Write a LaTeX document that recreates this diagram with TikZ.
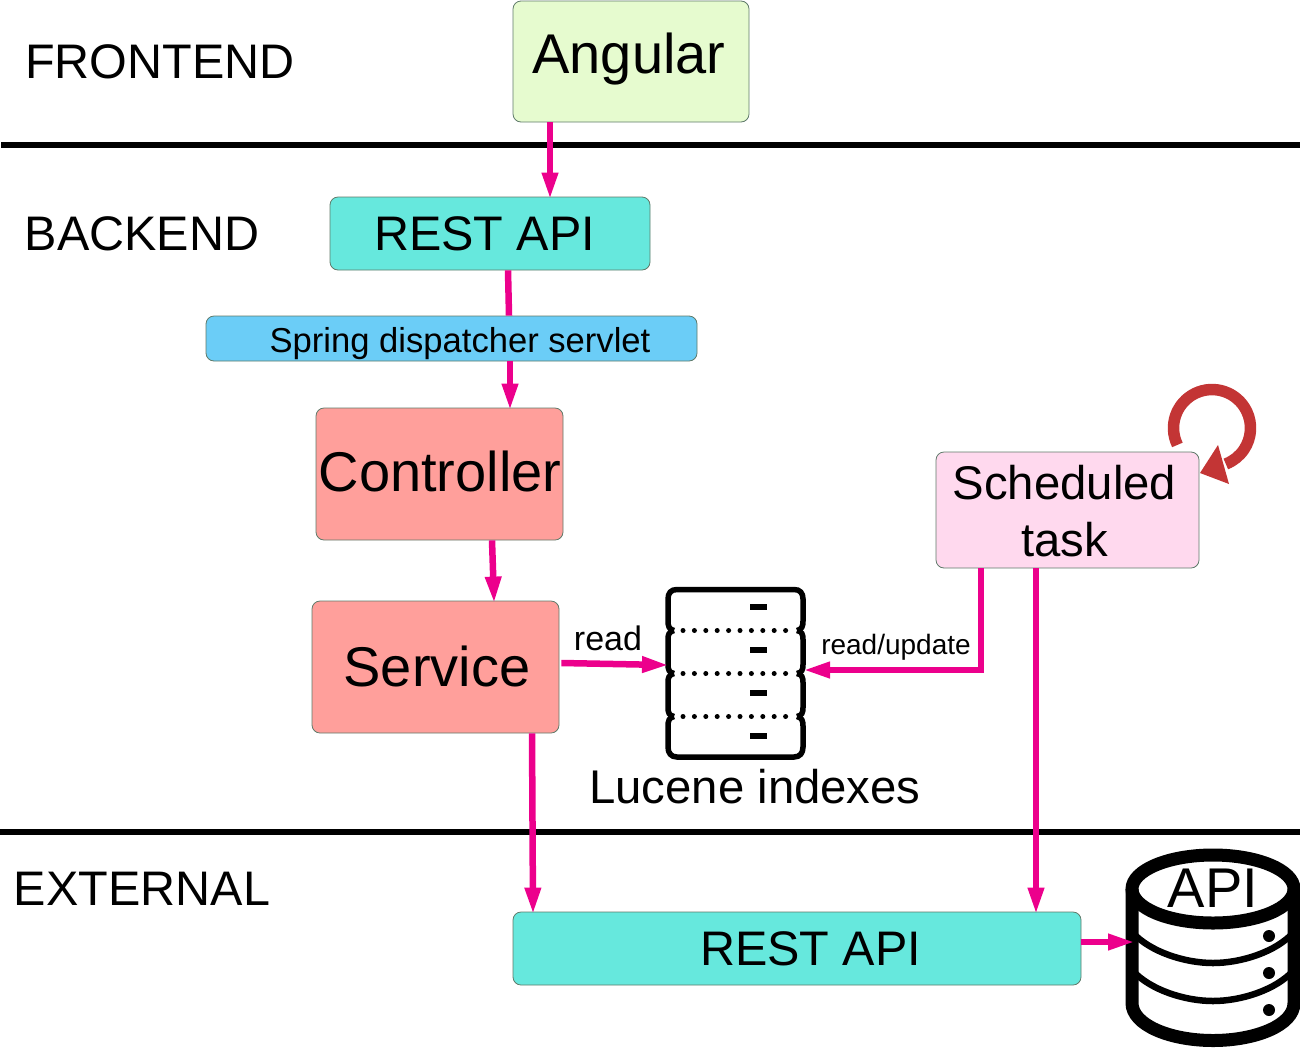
\documentclass[tikz,border=0pt]{standalone}
\usepackage{fontspec}
\setmainfont{Liberation Sans}
\usetikzlibrary{arrows.meta}

\definecolor{arrowpink}{HTML}{EC008C}
\definecolor{loopred}{HTML}{C33535}
\definecolor{boxline}{HTML}{5F7A6A}
\definecolor{angularfill}{HTML}{E6FBCF}
\definecolor{restfill}{HTML}{66E8DD}
\definecolor{springfill}{HTML}{6BCDF7}
\definecolor{logicfill}{HTML}{FF9F9B}
\definecolor{taskfill}{HTML}{FFD9EE}

\tikzset{
	box/.style={draw=boxline, line width=0.8pt, rounded corners=8pt, inner sep=0pt},
	huge/.style={font=\fontsize{56}{60}\selectfont, inner sep=0pt},
	big/.style={font=\fontsize{48.5}{57}\selectfont, inner sep=0pt, align=center},
	mid/.style={font=\fontsize{47.3}{57}\selectfont, inner sep=0pt, align=center},
	call/.style={draw=arrowpink, line width=6.5pt, shorten >=-3pt, -{Triangle[length=27pt,width=15pt]}},
	plain/.style={draw=arrowpink, line width=6.5pt},
	border/.style={line width=6pt},
	stack/.style={line width=5.5pt}
}

\begin{document}
\begin{tikzpicture}[x=1pt, y=-1pt]
	    \useasboundingbox (0,0) rectangle (1300,1050);

	    \node[big] (frontend) at (160,62) {FRONTEND};
	    \node[big] (backend) at (142,234) {BACKEND};
	    \node[big] (external) at (142,889) {EXTERNAL};

	    \coordinate (l1) at (1,145);
	    \coordinate (r1) at (1300,145);
	    \coordinate (l2) at (0,831.5);
	    \coordinate (r2) at (1300,831.5);
	    \draw[border] (l1) -- (r1);
	    \draw[border] (l2) -- (r2);

	    \node[box, fill=angularfill, minimum width=236pt, minimum height=121pt, label={[huge, xshift=-2pt, yshift=2pt]center:Angular}] (angular) at (631,61.5) {};
	    \node[box, fill=restfill, minimum width=320pt, minimum height=73pt, label={[big, xshift=-5.5pt]center:REST API}] (rest) at (490,233.5) {};
	    \node[box, fill=springfill, minimum width=491pt, minimum height=45pt, label={[font=\fontsize{34.6}{40}\selectfont, inner sep=0pt, xshift=8.5pt, yshift=-5.5pt]center:Spring dispatcher servlet}] (spring) at (451.5,338.5) {};
	    \node[box, fill=logicfill, minimum width=247pt, minimum height=132pt, label={[huge, xshift=0.5pt, yshift=3pt]center:Controller}] (controller) at (439.5,474) {};
	    \node[box, fill=logicfill, minimum width=247pt, minimum height=132pt, label={[huge, xshift=1.5pt, yshift=1pt]center:Service}] (service) at (435.5,667) {};
	    \node[box, fill=taskfill, minimum width=263pt, minimum height=116pt, label={[mid, xshift=-3pt, yshift=-1pt]center:Scheduled\\task}] (task) at (1067.5,510) {};
	    \node[box, fill=restfill, minimum width=568pt, minimum height=73pt, label={[big, xshift=13.5pt]center:REST API}] (extrest) at (797,948.5) {};

	    % index stack
	    \draw[stack] (674,630.5) .. controls (669,629.5) and (668,626) .. (668,621) -- (668,599) .. controls (668,593) and (671,589.5) .. (677,589.5) -- (794,589.5) .. controls (800,589.5) and (803,593) .. (803,599) -- (803,621) .. controls (803,626) and (802,629.5) .. (797,630.5);
	    \foreach \a/\b in {630.5/673.5,673.5/716.5}
		\draw[stack] (674,\a) .. controls (669,\a+1) and (668,\a+4) .. (668,\a+9) -- (668,\b-9) .. controls (668,\b-4) and (669,\b-1) .. (674,\b)
		(797,\a) .. controls (802,\a+1) and (803,\a+4) .. (803,\a+9) -- (803,\b-9) .. controls (803,\b-4) and (802,\b-1) .. (797,\b);
	    \draw[stack] (674,716.5) .. controls (669,717.5) and (668,721) .. (668,726) -- (668,747) .. controls (668,753) and (671,757) .. (677,757) -- (794,757) .. controls (800,757) and (803,753) .. (803,747) -- (803,726) .. controls (803,721) and (802,717.5) .. (797,716.5);
	    \foreach \y in {630.5,673.5,716.5}
		\draw[line width=5pt, line cap=round, dash pattern=on 0pt off 11.4pt] (683,\y) -- (790,\y);
	    \foreach \y in {607,650,693,736}
		\draw[line width=6pt] (750,\y) -- (767,\y);
	    \coordinate (indexin) at (666,665);
	    \coordinate (indexout) at (806,670);
	    \node[mid] (lucene) at (755,786.5) {Lucene indexes};

	    % api database
	    \draw[line width=13pt] (1132,889) -- (1132,1003) .. controls (1132,1025) and (1170,1040.5) .. (1213,1040.5) .. controls (1256,1040.5) and (1294,1025) .. (1294,1003) -- (1294,889);
	    \draw[line width=13pt] (1213,889) ellipse (81 and 34);
	    \draw[line width=6.5pt] (1132,932) .. controls (1150,952) and (1185,963) .. (1213,963) .. controls (1241,963) and (1276,952) .. (1294,932);
	    \draw[line width=6.5pt] (1132,970) .. controls (1150,990) and (1185,1001) .. (1213,1001) .. controls (1241,1001) and (1276,990) .. (1294,970);
	    \foreach \y in {936,973,1010}
		\fill (1269,\y) circle (6);
	    \node[huge] (api) at (1213,888) {API};
	    \coordinate (apiin) at (1132,942);

	    % repeat mark
	    \draw[loopred, line width=11.5pt] (1177.4,444.9) arc[start angle=206, end angle=-69, radius=38.5pt];
	    \fill[loopred] (1200,473) -- (1218,445) -- (1229,484) -- cycle;

	    \draw[call] ([xshift=-81pt]angular.south) -- ([xshift=60pt]rest.north);
	    \draw[plain] ([xshift=18pt]rest.south) -- ([xshift=57.5pt]spring.north);
	    \draw[call] ([xshift=58.5pt]spring.south) -- ([xshift=70.5pt]controller.north);
	    \draw[call] ([xshift=52.5pt]controller.south) -- ([xshift=58.5pt]service.north);
	    \draw[call] ([xshift=2pt, yshift=4pt]service.east) -- (indexin);
	    \draw[call] ([xshift=96.5pt]service.south) -- ([xshift=-264pt]extrest.north);
	    \draw[call] ([xshift=-86.5pt]task.south) |- (indexout);
	    \draw[call] ([xshift=-31.5pt]task.south) -- ([xshift=239pt]extrest.north);
	    \draw[call] (extrest.east |- apiin) -- (apiin);

	    \node[font=\fontsize{34}{38}\selectfont, inner sep=0pt] (read) at (608,638) {read};
	    \node[font=\fontsize{28}{32}\selectfont, inner sep=0pt] (update) at (896,647) {read/update};
\end{tikzpicture}
\end{document}
